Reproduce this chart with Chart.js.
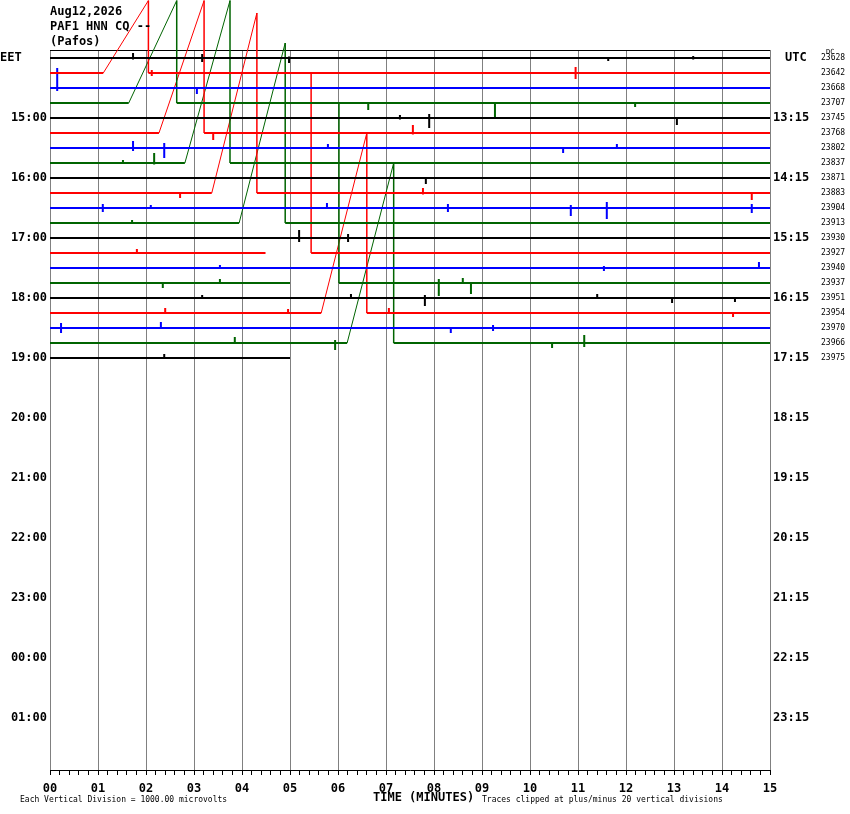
<!DOCTYPE html>
<html>
<head>
<meta charset="utf-8">
<title>PAF1 HNN CQ helicorder</title>
<script src="https://cdn.jsdelivr.net/npm/chart.js@4/dist/chart.umd.min.js"></script>
<style>
  html, body { margin: 0; padding: 0; background: #fff; }
  canvas { display: block; }
</style>
</head>
<body>
<canvas id="heli" width="850" height="814"></canvas>
<script>
// tick labels
const minuteLabels = ['00','01','02','03','04','05','06','07','08','09','10','11','12','13','14','15'];
const eetLabels = ['15:00','16:00','17:00','18:00','19:00','20:00','21:00','22:00','23:00','00:00','01:00'];
const utcLabels = ['13:15','14:15','15:15','16:15','17:15','18:15','19:15','20:15','21:15','22:15','23:15'];

// DC count printed at the right end of each trace line
const dcCounts = [23628, 23642, 23668, 23707, 23745, 23768, 23802, 23837, 23871, 23883, 23904,
                  23913, 23930, 23927, 23940, 23937, 23951, 23954, 23970, 23966, 23975];

// minute at which each trace line stops
const traceEnds = [15, 15, 15, 15, 15, 15, 15, 15, 15, 15, 15, 15, 15, 15, 15, 15, 15, 15, 15, 15, 5.0];

// [trace, minute, up, down]  heights in trace spacings
const spikes = [
  [0, 1.73, 0.33, 0.10], [0, 3.17, 0.27, 0.27], [0, 4.98, 0.10, 0.33], [0, 11.63, 0.00, 0.20], [0, 13.40, 0.13, 0.10],
  [1, 2.12, 0.20, 0.20], [1, 10.95, 0.40, 0.40],
  [2, 0.15, 1.33, 0.20], [2, 3.06, 0.00, 0.40],
  [3, 6.63, 0.00, 0.47], [3, 9.27, 0.07, 0.93], [3, 12.19, 0.00, 0.27],
  [4, 7.29, 0.20, 0.10], [4, 7.90, 0.27, 0.67], [4, 13.06, 0.00, 0.47],
  [5, 3.40, 0.00, 0.47], [5, 7.56, 0.53, 0.10],
  [6, 1.73, 0.47, 0.20], [6, 2.38, 0.33, 0.67], [6, 5.79, 0.27, 0.00], [6, 10.69, 0.00, 0.33], [6, 11.81, 0.27, 0.00],
  [7, 1.52, 0.20, 0.00], [7, 2.17, 0.67, 0.10],
  [8, 7.83, 0.00, 0.40],
  [9, 2.71, 0.00, 0.33], [9, 7.77, 0.33, 0.10], [9, 14.62, 0.00, 0.47],
  [10, 1.10, 0.27, 0.27], [10, 2.10, 0.20, 0.00], [10, 5.77, 0.33, 0.00], [10, 8.29, 0.27, 0.27],
  [10, 10.85, 0.20, 0.53], [10, 11.60, 0.40, 0.73], [10, 14.62, 0.27, 0.33],
  [11, 1.71, 0.20, 0.00],
  [12, 5.19, 0.53, 0.27], [12, 6.21, 0.27, 0.27],
  [13, 1.81, 0.27, 0.00],
  [14, 3.54, 0.20, 0.00], [14, 11.54, 0.13, 0.20], [14, 14.77, 0.40, 0.00],
  [15, 2.35, 0.00, 0.33], [15, 3.54, 0.27, 0.00], [15, 8.10, 0.27, 0.87], [15, 8.60, 0.33, 0.00], [15, 8.77, 0.00, 0.73],
  [16, 3.17, 0.20, 0.00], [16, 6.27, 0.27, 0.00], [16, 7.81, 0.20, 0.53], [16, 11.40, 0.27, 0.00],
  [16, 12.96, 0.00, 0.33], [16, 14.27, 0.00, 0.27],
  [17, 2.40, 0.33, 0.00], [17, 4.96, 0.27, 0.00], [17, 7.06, 0.33, 0.00], [17, 14.23, 0.00, 0.27],
  [18, 0.23, 0.33, 0.33], [18, 2.31, 0.40, 0.00], [18, 8.35, 0.00, 0.33], [18, 9.23, 0.20, 0.20],
  [19, 3.85, 0.40, 0.00], [19, 5.94, 0.20, 0.47], [19, 10.46, 0.00, 0.33], [19, 11.13, 0.53, 0.27],
  [20, 2.38, 0.27, 0.00]
];

// [trace, start minute, peak minute, rise]  offset ramps that drop straight back
const ramps = [
  [1, 1.11, 2.05, 4.83], [3, 1.64, 2.64, 6.83], [5, 2.27, 3.21, 8.83], [7, 2.81, 3.75, 10.83],
  [9, 3.37, 4.31, 12], [11, 3.94, 4.90, 12], [17, 5.65, 6.60, 12], [19, 6.19, 7.16, 12]
];

// [trace, gap start, gap end, offset on resume]
const gaps = [
  [13, 4.49, 5.44, 12], [15, 5.00, 6.02, 12]
];

const traceColors = ['#000000', '#ff0000', '#0000ff', '#006400'];
const traceCount = dcCounts.length;

function buildTrace(i) {
  const events = [];
  spikes.filter(s => s[0] === i).forEach(s => events.push({ t: s[1], kind: 'spike', up: s[2], down: s[3] }));
  ramps.filter(r => r[0] === i).forEach(r => events.push({ t: r[1], kind: 'ramp', end: r[2], rise: r[3] }));
  gaps.filter(g => g[0] === i).forEach(g => events.push({ t: g[1], kind: 'gap', end: g[2], rise: g[3] }));
  events.sort((a, b) => a.t - b.t);

  const pts = [{ x: 0, y: i }];
  for (const e of events) {
    if (e.kind === 'spike') {
      pts.push({ x: e.t, y: i }, { x: e.t, y: i - e.up }, { x: e.t, y: i + e.down }, { x: e.t, y: i });
    } else if (e.kind === 'ramp') {
      pts.push({ x: e.t, y: i }, { x: e.end, y: i - e.rise }, { x: e.end, y: i });
    } else {
      pts.push({ x: e.t, y: i }, { x: e.t, y: null }, { x: e.end, y: i - e.rise }, { x: e.end, y: i });
    }
  }
  pts.push({ x: traceEnds[i], y: i });
  return pts;
}

const datasets = [];
for (let i = 0; i < traceCount; i++) {
  datasets.push({
    data: buildTrace(i),
    borderColor: traceColors[i % 4],
    borderWidth: 2,
    pointRadius: 0,
    tension: 0,
    spanGaps: false,
    clip: false,
    segment: {
      borderWidth: ctx => {
        const dx = ctx.p1.parsed.x - ctx.p0.parsed.x;
        const dy = Math.abs(ctx.p1.parsed.y - ctx.p0.parsed.y);
        if (dy > 2) return dx > 0 ? 1 : 1.5;
        return 2;
      }
    }
  });
}

// minor ticks every 0.2 minute
const xTickValues = [];
for (let m = 0; m <= 15; m++) {
  for (let k = 0; k < 5; k++) {
    if (m === 15 && k > 0) break;
    xTickValues.push(m + k / 5);
  }
}

// half a pixel down so the 2px traces sit on whole pixel rows
const yMin = -0.5 - 0.5 / 15;
const yMax = 47.5 - 0.5 / 15;

const mono = 'DejaVu Sans Mono';

const textPlugin = {
  id: 'heliText',
  beforeDatasetsDraw(chart) {
    const { ctx, chartArea } = chart;
    ctx.save();
    ctx.strokeStyle = '#000';
    ctx.lineWidth = 1;
    ctx.beginPath();
    ctx.moveTo(chartArea.left, chartArea.top + 0.5);
    ctx.lineTo(chartArea.right, chartArea.top + 0.5);
    ctx.stroke();
    ctx.restore();
  },
  afterDraw(chart) {
    const { ctx } = chart;
    const y = chart.scales.y;
    ctx.save();
    ctx.fillStyle = '#000';
    ctx.textBaseline = 'middle';
    ctx.textAlign = 'left';

    ctx.font = 'bold 12px "' + mono + '"';
    ctx.fillText('Aug12,2026', 50, 12);
    ctx.fillText('PAF1 HNN CQ --', 50, 27);
    ctx.fillText('(Pafos)', 50, 42);
    ctx.fillText('EET', 0, y.getPixelForValue(0));
    ctx.fillText('UTC', 785, y.getPixelForValue(0));
    ctx.fillText('TIME (MINUTES)', 373, 798);

    ctx.font = '8px "' + mono + '"';
    ctx.fillText('Each Vertical Division = 1000.00 microvolts', 20, 800);
    ctx.fillText('Traces clipped at plus/minus 20 vertical divisions', 482, 800);
    dcCounts.forEach((c, i) => ctx.fillText(String(c), 821, y.getPixelForValue(i)));
    ctx.font = '7px "' + mono + '"';
    ctx.fillText('DC', 826, 52);
    ctx.restore();
  }
};

new Chart(document.getElementById('heli'), {
  type: 'line',
  data: { datasets },
  options: {
    responsive: false,
    devicePixelRatio: 1,
    animation: false,
    events: [],
    layout: { padding: { top: 50, left: 0, right: 0, bottom: 0 } },
    plugins: { legend: { display: false }, tooltip: { enabled: false } },
    scales: {
      x: {
        type: 'linear',
        position: 'bottom',
        min: 0,
        max: 15,
        afterBuildTicks: axis => { axis.ticks = xTickValues.map(v => ({ value: v })); },
        afterFit: axis => { axis.height = 44; },
        ticks: {
          autoSkip: false,
          maxRotation: 0,
          padding: 7,
          color: '#000',
          font: { family: mono, size: 12, weight: 'bold' },
          callback: (v, idx) => (idx % 5 === 0 ? minuteLabels[idx / 5] : '')
        },
        grid: {
          color: ctx => (ctx.index % 5 === 0 ? '#808080' : 'rgba(0,0,0,0)'),
          tickColor: '#000',
          tickLength: 5,
          lineWidth: 1
        },
        border: { color: '#000', width: 1 }
      },
      y: {
        type: 'linear',
        position: 'left',
        min: yMin,
        max: yMax,
        reverse: true,
        afterBuildTicks: axis => { axis.ticks = eetLabels.map((_, k) => ({ value: 4 + 4 * k })); },
        afterFit: axis => { axis.width = 50; },
        ticks: {
          padding: 3,
          color: '#000',
          font: { family: mono, size: 12, weight: 'bold' },
          callback: (v, idx) => eetLabels[idx]
        },
        grid: { display: false, drawTicks: false },
        border: { display: false }
      },
      y2: {
        type: 'linear',
        position: 'right',
        min: yMin,
        max: yMax,
        reverse: true,
        afterBuildTicks: axis => { axis.ticks = utcLabels.map((_, k) => ({ value: 4 + 4 * k })); },
        afterFit: axis => { axis.width = 80; },
        ticks: {
          padding: 3,
          color: '#000',
          font: { family: mono, size: 12, weight: 'bold' },
          callback: (v, idx) => utcLabels[idx]
        },
        grid: { display: false, drawTicks: false },
        border: { display: false }
      }
    }
  },
  plugins: [textPlugin]
});
</script>
</body>
</html>
